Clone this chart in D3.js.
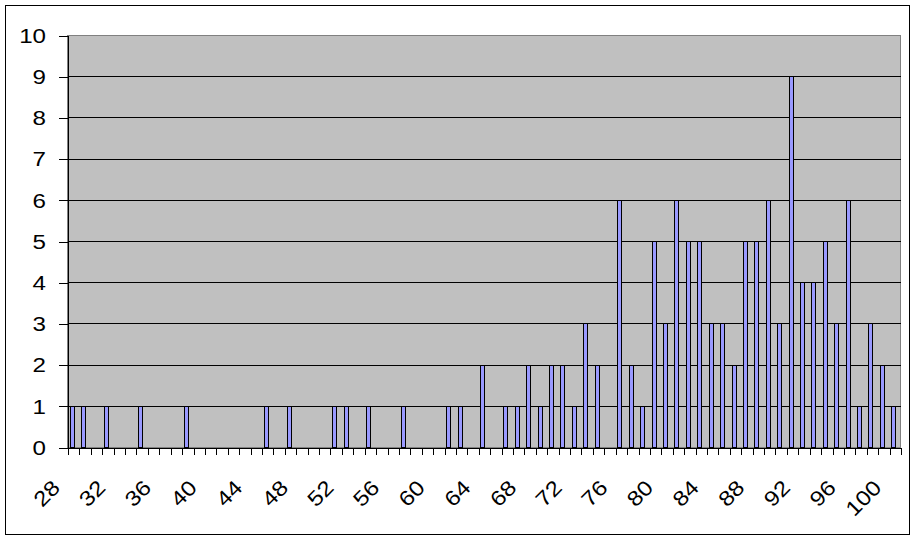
<!DOCTYPE html>
<html>
<head>
<meta charset="utf-8">
<script src="https://cdn.jsdelivr.net/npm/d3@7"></script>
<style>
  body { margin: 0; background: #fff; }
  svg text { font-family: Arial, "Liberation Sans", sans-serif; fill: #000; }
</style>
</head>
<body>
<svg width="916" height="541"></svg>
<script>
// categories on the x axis (one per score)
var categories = [28, 29, 30, 31, 32, 33, 34, 35, 36, 37, 38, 39, 40, 41, 42, 43, 44, 45, 46, 47,
                  48, 49, 50, 51, 52, 53, 54, 55, 56, 57, 58, 59, 60, 61, 62, 63, 64, 65, 66, 67,
                  68, 69, 70, 71, 72, 73, 74, 75, 76, 77, 78, 79, 80, 81, 82, 83, 84, 85, 86, 87,
                  88, 89, 90, 91, 92, 93, 94, 95, 96, 97, 98, 99, 100];
// how many per category
var counts = [1, 1, 0, 1, 0, 0, 1, 0, 0, 0, 1, 0, 0, 0, 0, 0, 0, 1, 0, 1,
              0, 0, 0, 1, 1, 0, 1, 0, 0, 1, 0, 0, 0, 1, 1, 0, 2, 0, 1, 1,
              2, 1, 2, 2, 1, 3, 2, 0, 6, 2, 1, 5, 3, 6, 5, 5, 3, 3, 2, 5,
              5, 6, 3, 9, 4, 4, 5, 3, 6, 1, 3, 2, 1];
var yTicks = [0, 1, 2, 3, 4, 5, 6, 7, 8, 9, 10];
var xTickLabels = [28, 32, 36, 40, 44, 48, 52, 56, 60, 64, 68, 72, 76, 80, 84, 88, 92, 96, 100];

var svg = d3.select("svg");
var plot = { left: 67.5, right: 900.5, top: 35.5, bottom: 447.5 };
var widen = 1.15; // the original font renders wider than Liberation Sans

// outer chart frame
svg.append("rect")
   .attr("x", 5.5).attr("y", 5.5)
   .attr("width", 904).attr("height", 529)
   .attr("fill", "#fff")
   .attr("stroke", "#000");

var x = d3.scaleBand()
          .domain(categories)
          .range([plot.left, plot.right])
          .paddingInner(0.6)
          .paddingOuter(0.3);

var y = d3.scaleLinear()
          .domain([0, 10])
          .range([plot.bottom, plot.top]);

// plot area
svg.append("rect")
   .attr("x", plot.left).attr("y", plot.top)
   .attr("width", plot.right - plot.left)
   .attr("height", plot.bottom - plot.top)
   .attr("fill", "#c0c0c0")
   .attr("stroke", "#808080");

// gridlines
svg.append("g").selectAll("line")
   .data(yTicks.filter(function(d) { return d > 0 && d < 10; }))
   .enter().append("line")
   .attr("x1", plot.left).attr("x2", plot.right)
   .attr("y1", function(d) { return Math.round(y(d) - 0.5) + 0.5; })
   .attr("y2", function(d) { return Math.round(y(d) - 0.5) + 0.5; })
   .attr("stroke", "#000")
   .attr("shape-rendering", "crispEdges");

// bars
svg.append("g").selectAll("rect")
   .data(categories.map(function(c, i) { return { cat: c, val: counts[i] }; })
                   .filter(function(d) { return d.val > 0; }))
   .enter().append("rect")
   .attr("x", function(d) { return Math.round(x(d.cat) + x.bandwidth() / 2 - 3.5) + 0.5; })
   .attr("y", function(d) { return Math.round(y(d.val) - 0.5) + 0.5; })
   .attr("width", 4)
   .attr("height", function(d) { return plot.bottom - (Math.round(y(d.val) - 0.5) + 0.5); })
   .attr("fill", "#9999ff")
   .attr("stroke", "#000")
   .attr("shape-rendering", "crispEdges");

// y axis
var yAxis = svg.append("g")
   .attr("transform", "translate(" + plot.left + ",0)")
   .call(d3.axisLeft(y).tickValues(yTicks).tickSize(9).tickSizeOuter(0).tickPadding(12));
yAxis.selectAll("line").attr("stroke", "#000").attr("shape-rendering", "crispEdges");
yAxis.select(".domain").attr("stroke", "#000").attr("shape-rendering", "crispEdges");
yAxis.selectAll("text")
     .attr("font-size", "21px")
     .attr("font-family", "Arial, 'Liberation Sans', sans-serif")
     .attr("x", -21.5 / widen)
     .attr("transform", "scale(" + widen + ",1)");

// x axis: ticks sit between categories
var xEdges = d3.scaleLinear().domain([0, categories.length]).range([plot.left, plot.right]);
var xAxis = svg.append("g")
   .attr("transform", "translate(0," + plot.bottom + ")")
   .call(d3.axisBottom(xEdges)
           .tickValues(d3.range(categories.length + 1))
           .tickSize(7).tickSizeOuter(0).tickFormat(""));
xAxis.selectAll("line")
     .attr("stroke", "#000")
     .attr("shape-rendering", "crispEdges")
     .attr("transform", function(d) { return "translate(" + (Math.round(xEdges(d) - 0.5) + 0.5 - xEdges(d)) + ",0)"; });
xAxis.select(".domain").attr("stroke", "#000").attr("shape-rendering", "crispEdges");

// rotated category labels
svg.append("g").selectAll("text")
   .data(xTickLabels)
   .enter().append("text")
   .attr("transform", function(d) {
     var cx = x(d) + x.bandwidth() / 2 - 12;
     return "translate(" + cx + "," + 489 + ") rotate(-45) scale(" + widen + ",1)";
   })
   .attr("text-anchor", "end")
   .attr("font-size", "21px")
   .text(function(d) { return d; });
</script>
</body>
</html>
